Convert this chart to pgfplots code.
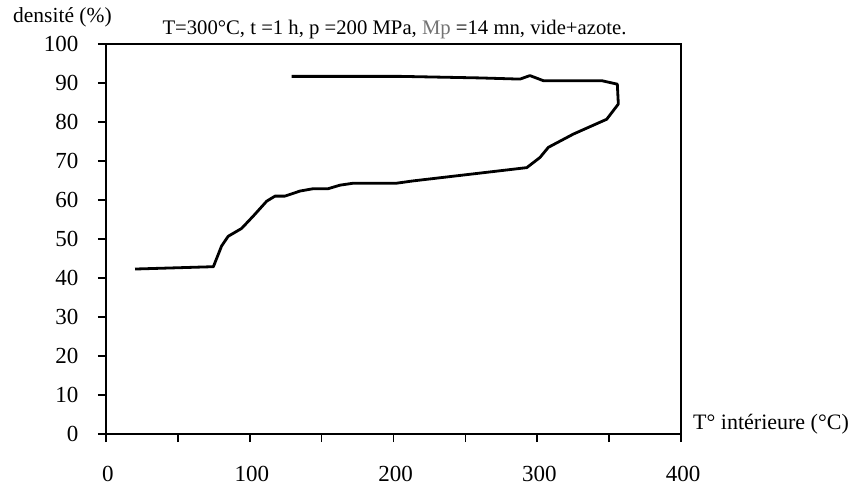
\documentclass[border=0pt]{standalone}
\usepackage{fontspec}
\setmainfont{Liberation Serif}
\usepackage{pgfplots}
\pgfplotsset{compat=1.18}
\begin{document}
\begin{tikzpicture}
\begin{axis}[
  at={(0pt,0pt)}, anchor=south west,
  scale only axis, width=575pt, height=390pt,
  xmin=0, xmax=400, ymin=0, ymax=100,
  xtick={0,50,...,400},
  xticklabels={0,,100,,200,,300,,400},
  ytick={0,10,...,100},
  tick pos=left, tick align=outside,
  major tick length=8pt,
  tick style={line width=1.6pt, black},
  axis line style={line width=2pt},
  /pgf/number format/assume math mode=true,
  tick label style={font=\fontsize{23}{27}\selectfont},
  xticklabel style={yshift=-21pt, xshift=2pt},
  yticklabel style={xshift=-16pt},
]
\addplot[black, line width=2.8pt, line join=round] coordinates {
(20.2,42.3) (74.7,42.9) (80.4,48.2) (85,50.7) (94.3,52.7) (102.5,55.9)
(111.8,59.7) (117.6,61.0) (124.5,61.0) (135,62.3) (144.2,62.9) (154.6,62.9)
(162.7,63.8) (171.9,64.3) (202,64.3) (213.7,64.9) (260.2,66.9) (292.7,68.3)
(301.9,70.9) (307.7,73.5) (325.1,76.9) (348.3,80.7) (356.4,84.6) (355.7,89.7)
(344.8,90.6) (304.2,90.6) (294.9,91.9) (288,91.0) (260.2,91.3) (204.5,91.7)
(129.2,91.7)
};
\end{axis}
\node[anchor=base, inner sep=0pt, font=\fontsize{20.7}{24}\selectfont] at (288.5pt,399pt)
  {T=300°C, t =1 h, p =200 MPa, \textcolor{black!55}{Mp} =14 mn, vide+azote.};
\node[anchor=base west, inner sep=0pt, font=\fontsize{21.5}{25}\selectfont] at (-93pt,411pt) {densité (\%)};
\node[anchor=base west, inner sep=0pt, font=\fontsize{22}{26}\selectfont] at (587pt,5pt) {T° intérieure (°C)};
\pgfresetboundingbox
\path (-106pt,-59pt) rectangle (742pt,434pt);
\end{tikzpicture}
\end{document}
